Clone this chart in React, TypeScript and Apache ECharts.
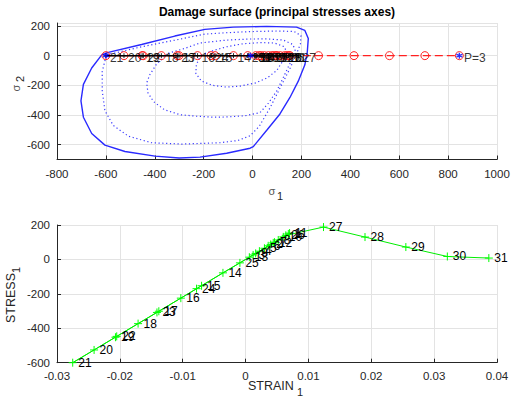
import React, { useEffect, useRef } from "react";
import * as echarts from "echarts";

// ---- data ----
const steps = [1, 2, 3, 4, 5, 6, 7, 8, 9, 10, 11, 12, 13, 14, 15, 16, 17, 18, 19, 20, 21, 22, 23, 24, 25, 26, 27, 28, 29, 30, 31];
const strain = [0.0068, 0.004, 0.0012, 0.0022, 0.003, 0.0036, 0.0046, 0.0052, 0.0016, 0.006, 0.007, 0.0044, 0.0006, -0.0036, -0.007, -0.0103, -0.0138, -0.0171, -0.0207, -0.0241, -0.0275, -0.0205, -0.0141, -0.0078, -0.0009, 0.0064, 0.0124, 0.019, 0.0255, 0.0321, 0.0387];
const stress = [148, 87, 26, 48, 65, 79, 100, 113, 35, 131, 153, 96, 13, -78, -153, -225, -301, -373, -452, -526, -600, -447, -308, -170, -20, 140, 188, 130, 72, 17, 8];
const effStress = [148, 87, 26, 48, 65, 79, 100, 113, 35, 131, 153, 96, 13, -78, -153, -225, -301, -373, -452, -526, -600, -447, -308, -170, -20, 140, 270, 415, 560, 705, 846];
const sigma2Path = [0, 0, 0, 0, 0, 0, 0, 0, 0, 0, 0, 0, 0, 0, 0, 0, 0, 0, 0, 0, 0, 0, 0, 0, 0, 0, 0, 0, 0, 0, 0];
const starS1 = [-600, -8, 846];
const starS2 = [0, 0, 0];
const starLabels = ["", "", "P=3"];

const surfaceSolid = [[-617, 5], [-590, 22], [-454, 75], [-318, 132], [-195, 177], [-79, 192], [58, 197], [180, 192], [214, 170], [228, 115], [224, 26], [214, -62], [187, -172], [153, -282], [112, -393], [58, -503], [3, -613], [-10, -624], [-106, -658], [-215, -684], [-300, -690], [-399, -677], [-522, -646], [-604, -603], [-658, -525], [-692, -415], [-702, -305], [-692, -194], [-658, -83], [-617, 5]];
const surfaceA = [[-597, 9], [-563, 18], [-454, 60], [-318, 104], [-195, 145], [-100, 155], [-11, 162], [100, 166], [170, 163], [198, 135], [196, 80], [182, 20], [155, -80], [115, -210], [72, -350], [28, -475], [-10, -540], [-60, -572], [-133, -587], [-290, -596], [-413, -587], [-508, -543], [-570, -470], [-604, -371], [-615, -238], [-615, -106], [-597, 9]];
const surfaceB = [[-345, 16], [-277, 49], [-215, 85], [-106, 105], [-11, 112], [60, 113], [126, 105], [165, 75], [178, 20], [150, -62], [125, -150], [99, -238], [65, -320], [30, -385], [-30, -405], [-100, -413], [-160, -415], [-230, -408], [-297, -398], [-360, -365], [-405, -310], [-428, -250], [-433, -183], [-420, -128], [-392, -55], [-345, 16]];
const surfaceC = [[-210, 5], [-160, 35], [-106, 60], [-40, 80], [30, 88], [90, 85], [130, 60], [140, 20], [126, -30], [99, -100], [60, -150], [10, -185], [-50, -205], [-106, -212], [-165, -200], [-210, -170], [-232, -120], [-230, -60], [-210, 5]];

const topXTicks = { min: -800, max: 1000, interval: 200 };
const topYRange = { min: -700, max: 220 };
const botXTicks = { min: -0.03, max: 0.04, interval: 0.01 };
const botYTicks = { min: -600, max: 200, interval: 200 };

const FONT = "Liberation Sans, Arial, sans-serif";
const AX = "#262626";

const fmt = (v: number) => String(Math.round(v * 10000) / 10000);

function axisCommon() {
  return {
    axisLine: { show: true, onZero: false, lineStyle: { color: AX, width: 1 } },
    axisTick: { show: true, inside: true, length: 4, lineStyle: { color: AX, width: 1 } },
    axisLabel: { color: AX, fontSize: 11.5, fontFamily: FONT, formatter: fmt },
    splitLine: { show: true, lineStyle: { color: "#e3e3e3", width: 1 } },
  };
}

const plusPath = "path://M0,-1L0,1M-1,0L1,0";
const starPath = "path://M0,-1L0,1M-0.87,-0.5L0.87,0.5M-0.87,0.5L0.87,-0.5";

export default function App() {
  const ref = useRef<HTMLDivElement>(null);
  useEffect(() => {
    if (!ref.current) return;
    const chart = echarts.init(ref.current, null, { renderer: "svg" });
    const c = axisCommon();
    const dotted = (data: number[][]) => ({
      type: "line",
      xAxisIndex: 0,
      yAxisIndex: 0,
      data,
      showSymbol: false,
      symbol: "none",
      lineStyle: { color: "#3a3aff", width: 1.2, type: [1.2, 2.6] },
      silent: true,
      z: 2,
    });
    const pointLabel = {
      show: true,
      position: "right",
      distance: 1,
      offset: [0, 2],
      color: "#000000",
      fontSize: 12,
      fontFamily: FONT,
    };
    const option: any = {
      animation: false,
      backgroundColor: "#ffffff",
      grid: [
        { left: 57, top: 23, width: 440, height: 136.5, outerBoundsMode: "none", containLabel: false },
        { left: 57, top: 225, width: 440, height: 137.7, outerBoundsMode: "none", containLabel: false },
      ],
      xAxis: [
        { ...c, gridIndex: 0, type: "value", ...topXTicks, axisLabel: { ...c.axisLabel, margin: 8 } },
        { ...c, gridIndex: 1, type: "value", ...botXTicks, axisLabel: { ...c.axisLabel, margin: 7 } },
      ],
      yAxis: [
        { ...c, gridIndex: 0, type: "value", ...topYRange, splitNumber: 5, axisLabel: { ...c.axisLabel, margin: 7, showMinLabel: false, showMaxLabel: false } },
        { ...c, gridIndex: 1, type: "value", ...botYTicks, axisLabel: { ...c.axisLabel, margin: 7 } },
      ],
      series: [
        {
          type: "line",
          xAxisIndex: 0,
          yAxisIndex: 0,
          data: surfaceSolid,
          showSymbol: false,
          symbol: "none",
          lineStyle: { color: "#2a2aff", width: 1.4 },
          silent: true,
          z: 2,
        },
        dotted(surfaceA),
        dotted(surfaceB),
        dotted(surfaceC),
        {
          type: "line",
          xAxisIndex: 0,
          yAxisIndex: 0,
          data: effStress.map((v, i) => [v, sigma2Path[i]]),
          symbol: "circle",
          symbolSize: 8,
          itemStyle: { color: "rgba(0,0,0,0)", borderColor: "#ff2020", borderWidth: 1 },
          lineStyle: { color: "#ff2020", width: 1.4, type: [8, 4] },
          silent: true,
          z: 3,
        },
        {
          type: "line",
          xAxisIndex: 0,
          yAxisIndex: 0,
          data: stress.map((v, i) => [v, sigma2Path[i]]),
          showSymbol: false,
          symbol: "none",
          lineStyle: { color: "#000000", width: 1.5 },
          silent: true,
          z: 4,
        },
        {
          type: "scatter",
          xAxisIndex: 0,
          yAxisIndex: 0,
          data: stress.map((v, i) => [v, sigma2Path[i], steps[i]]),
          symbol: plusPath,
          symbolSize: 5,
          itemStyle: { color: "rgba(0,0,0,0)", borderColor: "#000000", borderWidth: 1 },
          label: { ...pointLabel, formatter: (p: any) => String(p.value[2]) },
          silent: true,
          z: 5,
        },
        {
          type: "scatter",
          xAxisIndex: 0,
          yAxisIndex: 0,
          data: starS1.map((v, i) => [v, starS2[i], starLabels[i]]),
          symbol: starPath,
          symbolSize: 6,
          itemStyle: { color: "rgba(0,0,0,0)", borderColor: "#0000ff", borderWidth: 1.3 },
          label: { ...pointLabel, formatter: (p: any) => String(p.value[2]) },
          silent: true,
          z: 6,
        },
        {
          type: "line",
          xAxisIndex: 1,
          yAxisIndex: 1,
          data: strain.map((v, i) => [v, stress[i]]),
          symbol: plusPath,
          symbolSize: 8,
          showSymbol: true,
          itemStyle: { color: "rgba(0,0,0,0)", borderColor: "#00ff00", borderWidth: 1 },
          lineStyle: { color: "#00ee00", width: 1 },
          label: { ...pointLabel, formatter: (p: any) => String(steps[p.dataIndex]) },
          labelLayout: { hideOverlap: false },
          silent: true,
          z: 3,
        },
      ],
      graphic: [
        {
          type: "text",
          x: 277,
          y: 12,
          style: { text: "Damage surface (principal stresses axes)", fill: "#000000", font: "bold 12px " + FONT, textAlign: "center", textVerticalAlign: "middle" },
        },
        { type: "text", x: 272, y: 191, style: { text: "σ", fill: "#555555", font: "11px " + FONT, textAlign: "center", textVerticalAlign: "middle" } },
        { type: "text", x: 280, y: 196, style: { text: "1", fill: AX, font: "11px " + FONT, textAlign: "center", textVerticalAlign: "middle" } },
        { type: "text", x: 16, y: 88, rotation: Math.PI / 2, style: { text: "σ", fill: "#555555", font: "11px " + FONT, textAlign: "center", textVerticalAlign: "middle" } },
        { type: "text", x: 20, y: 79, rotation: Math.PI / 2, style: { text: "2", fill: AX, font: "11px " + FONT, textAlign: "center", textVerticalAlign: "middle" } },
        { type: "text", x: 248, y: 386, style: { text: "STRAIN", fill: AX, font: "12.5px " + FONT, textAlign: "left", textVerticalAlign: "middle" } },
        { type: "text", x: 297, y: 392, style: { text: "1", fill: AX, font: "11px " + FONT, textAlign: "left", textVerticalAlign: "middle" } },
        { type: "text", x: 11, y: 298, rotation: Math.PI / 2, style: { text: "STRESS", fill: AX, font: "12.5px " + FONT, textAlign: "center", textVerticalAlign: "middle" } },
        { type: "text", x: 16, y: 270, rotation: Math.PI / 2, style: { text: "1", fill: AX, font: "11px " + FONT, textAlign: "center", textVerticalAlign: "middle" } },
      ],
    };
    chart.setOption(option);
    return () => chart.dispose();
  }, []);
  return (
    <div
      ref={ref}
      style={{ position: "fixed", left: 0, top: 0, width: 513, height: 405, background: "#ffffff" }}
    />
  );
}
